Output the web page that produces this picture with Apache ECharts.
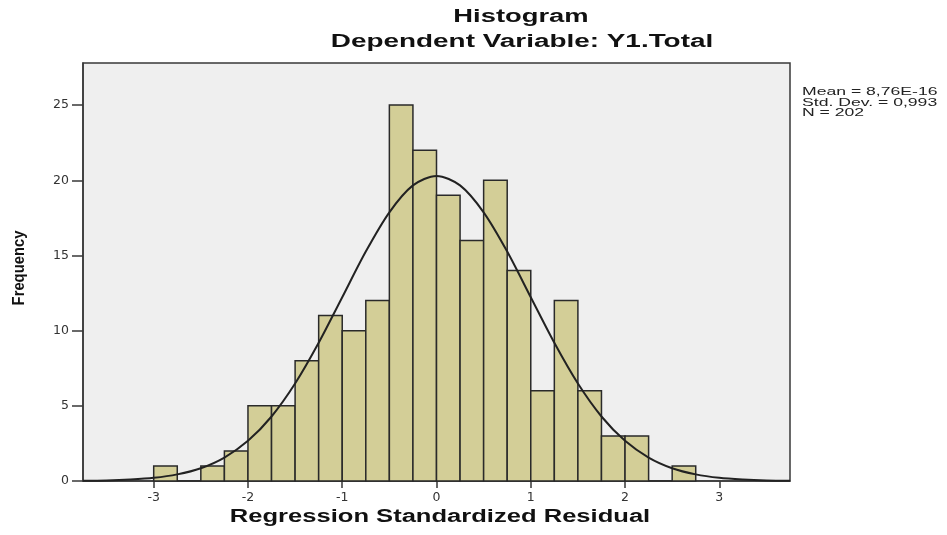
<!DOCTYPE html>
<html>
<head>
<meta charset="utf-8">
<script src="https://cdn.jsdelivr.net/npm/echarts@6/dist/echarts.min.js"></script>
<style>
  html, body { margin: 0; padding: 0; background: #fff; }
  #chart { width: 947px; height: 535px; }
</style>
</head>
<body>
<div id="chart"></div>
<script>
'use strict';

// histogram bins (lower edge, width 0.25) and their frequencies
const binWidth = 0.25;
const binLow = [-3, -2.75, -2.5, -2.25, -2, -1.75, -1.5, -1.25, -1, -0.75, -0.5, -0.25,
  0, 0.25, 0.5, 0.75, 1, 1.25, 1.5, 1.75, 2, 2.25, 2.5];
const counts = [1, 0, 1, 2, 5, 5, 8, 11, 10, 12, 25, 22,
  19, 16, 20, 14, 6, 12, 6, 3, 3, 0, 1];

// normal curve, every 0.25
const curveX = [-3.75, -3.5, -3.25, -3, -2.75, -2.5, -2.25, -2, -1.75, -1.5, -1.25, -1, -0.75, -0.5, -0.25,
  0, 0.25, 0.5, 0.75, 1, 1.25, 1.5, 1.75, 2, 2.25, 2.5, 2.75, 3, 3.25, 3.5, 3.75];
const curveY = [0.02, 0.04, 0.1, 0.21, 0.44, 0.85, 1.56, 2.67, 4.29, 6.48, 9.19, 12.22, 15.26, 17.87, 19.66,
  20.29, 19.66, 17.87, 15.26, 12.22, 9.19, 6.48, 4.29, 2.67, 1.56, 0.85, 0.44, 0.21, 0.1, 0.04, 0.02];

const xTicks = [-3, -2, -1, 0, 1, 2, 3];
const yTicks = [0, 5, 10, 15, 20, 25];
const statLines = ['Mean = 8,76E-16', 'Std. Dev. = 0,993', 'N = 202'];

const font = '"Liberation Sans", Arial, sans-serif';
const tickFont = '"DejaVu Sans", sans-serif';
const chart = echarts.init(document.getElementById('chart'), null, { renderer: 'canvas' });

const bars = binLow.map((lo, i) => [lo, lo + binWidth, counts[i]]);
const curve = curveX.map((x, i) => [x, curveY[i]]);

// the source picture is stretched sideways, so the texts are too
function label(text, x, y, size, sx, extra) {
  return Object.assign({
    type: 'text', x: x, y: y, scaleX: sx,
    style: {
      text: text, font: 'bold ' + size + 'px ' + font, fill: '#111',
      align: 'center', verticalAlign: 'middle', textAlign: 'center', textVerticalAlign: 'middle'
    }
  }, extra || {});
}

chart.setOption({
  animation: false,
  backgroundColor: '#fff',
  grid: {
    left: 83, right: 157, top: 63, bottom: 54,
    show: true, backgroundColor: '#efefef', borderColor: '#383838', borderWidth: 1.5
  },
  xAxis: {
    type: 'value', min: -3.75, max: 3.75,
    axisLine: { show: true, onZero: false, lineStyle: { color: '#383838', width: 1.5 } },
    axisTick: { show: true, length: 7, customValues: xTicks, lineStyle: { color: '#383838', width: 1.5 } },
    axisLabel: { customValues: xTicks, margin: 10, fontFamily: tickFont, fontSize: 12.5, color: '#333' },
    splitLine: { show: false }
  },
  yAxis: {
    type: 'value', min: 0, max: 27.8,
    axisLine: { show: true, onZero: false, lineStyle: { color: '#383838', width: 1.5 } },
    axisTick: { show: true, length: 11, customValues: yTicks, lineStyle: { color: '#383838', width: 1.5 } },
    axisLabel: { customValues: yTicks, margin: 14, fontFamily: tickFont, fontSize: 12.5, color: '#333' },
    splitLine: { show: false }
  },
  series: [
    {
      type: 'custom',
      data: bars,
      renderItem: function (params, api) {
        const topLeft = api.coord([api.value(0), api.value(2)]);
        const bottomRight = api.coord([api.value(1), 0]);
        return {
          type: 'rect',
          shape: {
            x: topLeft[0], y: topLeft[1],
            width: bottomRight[0] - topLeft[0], height: bottomRight[1] - topLeft[1]
          },
          style: { fill: '#d3ce97', stroke: '#2a2a2a', lineWidth: 1.5 }
        };
      },
      encode: { x: [0, 1], y: 2 },
      z: 2
    },
    {
      type: 'line',
      data: curve,
      smooth: 0.3,
      showSymbol: false,
      lineStyle: { color: '#222', width: 2 },
      z: 3
    }
  ],
  graphic: [
    label('Histogram', 521, 17, 18, 1.52),
    label('Dependent Variable: Y1.Total', 522, 42, 18, 1.55),
    label('Regression Standardized Residual', 440, 517, 18, 1.42),
    label('Frequency', 19, 268, 17, 0.87, { rotation: Math.PI / 2 }),
    {
      type: 'text', x: 802, y: 87, scaleX: 1.6,
      style: {
        text: statLines.join('\n'),
        font: '11px ' + font, lineHeight: 10.5, fill: '#222'
      }
    }
  ]
});
</script>
</body>
</html>
